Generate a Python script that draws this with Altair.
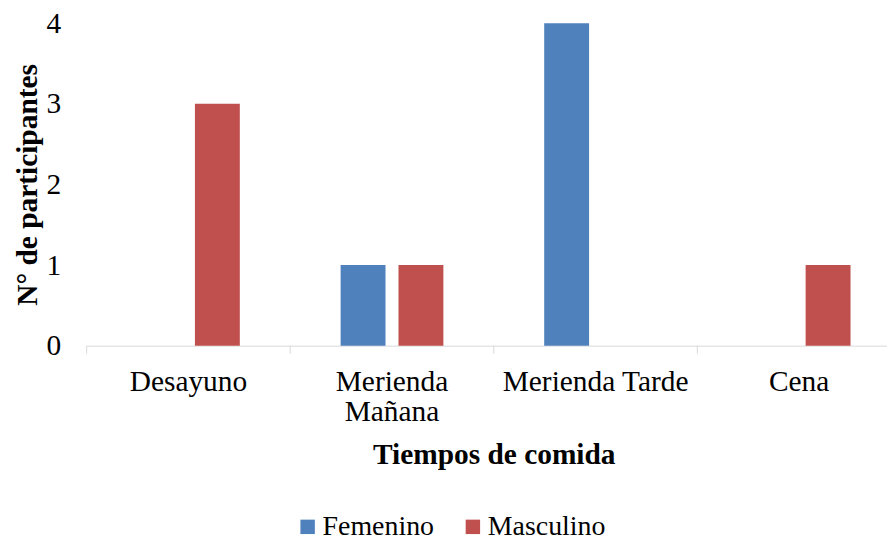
import altair as alt
import pandas as pd

categories = ["Desayuno", "Merienda Mañana", "Merienda Tarde", "Cena"]
series = ["Femenino", "Masculino"]
femenino = [0, 1, 4, 0]
masculino = [3, 1, 0, 1]
colors = ["#4F81BD", "#C0504D"]
y_ticks = [0, 1, 2, 3, 4]

rows = []
for c, f, m in zip(categories, femenino, masculino):
    rows.append({"cat": c, "sexo": "Femenino", "n": f})
    rows.append({"cat": c, "sexo": "Masculino", "n": m})
df = pd.DataFrame(rows)

FONT = "Liberation Serif, Times New Roman, serif"
FS = 29.5
W = 804
H = 324
FULL = 818

xscale = alt.Scale(domain=categories, range=[0, FULL], paddingInner=0, paddingOuter=0)
offscale = alt.Scale(domain=series, paddingInner=13 / 58, paddingOuter=0.871)

bars = alt.Chart(df).mark_bar().encode(
    x=alt.X(
        "cat:N",
        scale=xscale,
        sort=categories,
        axis=alt.Axis(
            title="Tiempos de comida",
            labelExpr="datum.label == 'Merienda Mañana' ? ['Merienda', 'Mañana'] : datum.label",
            ticks=False,
            domainColor="#D9D9D9",
            domainWidth=1,
            labelAngle=0,
            labelFont=FONT,
            labelFontSize=FS,
            labelColor="black",
            labelPadding=22,
            labelLineHeight=30,
            labelBaseline="top",
            labelLimit=0,
            titleFont=FONT,
            titleFontSize=FS,
            titleFontWeight="bold",
            titleColor="black",
            titlePadding=15,
        ),
    ),
    xOffset=alt.XOffset("sexo:N", scale=offscale, sort=series),
    y=alt.Y(
        "n:Q",
        scale=alt.Scale(domain=[0, 4], nice=False),
        axis=alt.Axis(
            values=y_ticks,
            title="N° de participantes",
            grid=False,
            domain=False,
            ticks=False,
            labelFont=FONT,
            labelFontSize=FS,
            labelColor="black",
            labelPadding=26,
            titleFont=FONT,
            titleFontSize=FS,
            titleFontWeight="bold",
            titleColor="black",
            titlePadding=4,
        ),
    ),
    color=alt.Color(
        "sexo:N",
        scale=alt.Scale(domain=series, range=colors),
        legend=alt.Legend(
            title=None,
            orient="none",
            legendX=208,
            legendY=492,
            direction="horizontal",
            symbolType="square",
            symbolSize=210,
            symbolStrokeWidth=0,
            labelFont=FONT,
            labelFontSize=28,
            labelColor="black",
            labelOffset=1,
            labelLimit=0,
            columnPadding=25,
            padding=0,
        ),
    ),
)

ticks = alt.Chart(df).transform_filter(alt.datum.sexo == "Femenino").mark_rule(
    color="#D9D9D9", strokeWidth=1
).encode(
    x=alt.X("cat:N", bandPosition=0, scale=xscale, sort=categories),
    y=alt.value(H),
    y2=alt.value(H + 8),
)

chart = alt.layer(bars, ticks).properties(
    width=W,
    height=H,
    autosize=alt.AutoSizeParams(type="none"),
    padding={"left": 79, "top": 14, "right": 0, "bottom": 196},
).configure_view(stroke=None)

chart.save("out.html", embed_options={"renderer": "svg", "actions": False})
